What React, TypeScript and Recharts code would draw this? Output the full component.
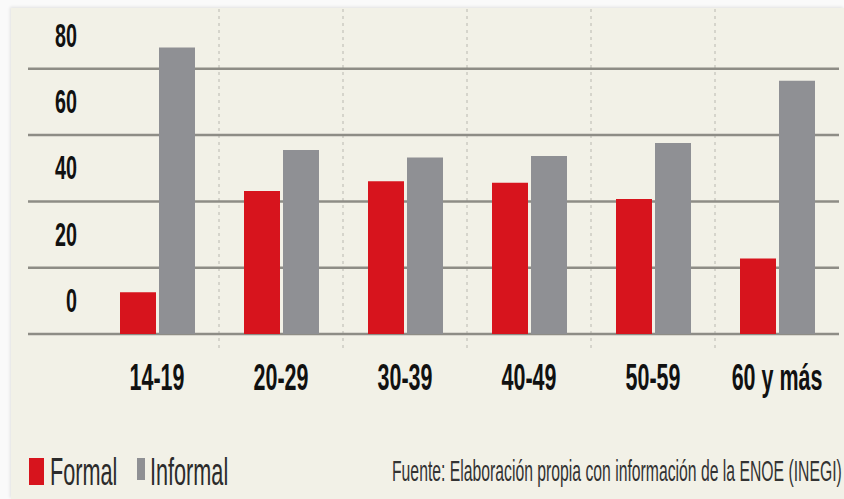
import React from 'react';
import { BarChart, Bar, XAxis, YAxis, CartesianGrid, Legend } from 'recharts';

// Employment by age group, formal vs informal (%)
const ageGroups = ['14-19', '20-29', '30-39', '40-49', '50-59', '60 y más'];
const formalValues = [12.6, 43.1, 46.1, 45.6, 40.7, 22.8];
const informalValues = [86.4, 55.5, 53.2, 53.7, 57.6, 76.4];
const yTicks = [0, 20, 40, 60, 80];
const sourceNote = 'Fuente: Elaboración propia con información de la ENOE (INEGI)';

const WIDTH = 844;
const HEIGHT = 499;
const RED = '#d7141d';
const GRAY = '#8f9094';
const CREAM = '#f2f1e7';
const FONT = '"Liberation Sans", Arial, sans-serif';
const NARROW = 0.58;
const LEFT_PAD = 67;

const data = ageGroups.map((age, i) => ({
  age,
  formal: formalValues[i],
  informal: informalValues[i],
}));

// condensed text: squeeze a regular face horizontally
const Narrow = ({ x, y, sx, anchor, size, weight, fill, children }: any) => (
  <g transform={`translate(${x},${y}) scale(${sx},1)`}>
    <text x={0} y={0} textAnchor={anchor} fontFamily={FONT} fontWeight={weight} fontSize={size} fill={fill}>
      {children}
    </text>
  </g>
);

const YTick = (props: any) => {
  const { y, payload } = props;
  return (
    <Narrow x={77} y={y - 22} sx={NARROW} anchor="end" size={34} weight={700} fill="#111">
      {payload.value}
    </Narrow>
  );
};

const XTick = (props: any) => {
  const { x, y, payload } = props;
  return (
    <Narrow x={x} y={y + 33} sx={NARROW} anchor="middle" size={37} weight={700} fill="#111">
      {payload.value}
    </Narrow>
  );
};

// dashed separators sit on the edges between age-group bands
const bandEdges = ({ xAxis, offset }: any) => {
  const scale = xAxis && xAxis.scale;
  if (scale && typeof scale === 'function') {
    const pts = ageGroups.slice(1).map((a) => scale(a));
    if (pts.every((p) => Number.isFinite(p))) return pts;
  }
  const left = offset.left + LEFT_PAD;
  const band = (offset.width - LEFT_PAD) / ageGroups.length;
  return ageGroups.slice(1).map((_, i) => left + band * (i + 1));
};

const LegendContent = (props: any) => {
  const items = props.payload || [];
  const slots = [
    { box: [29, 8, 15, 27], text: 50 },
    { box: [137, 8, 8, 22], text: 150 },
  ];
  return (
    <svg width={WIDTH} height={44} style={{ display: 'block' }}>
      {items.map((item: any, i: number) => {
        const s = slots[i];
        if (!s) return null;
        return (
          <g key={item.value}>
            <rect x={s.box[0]} y={s.box[1]} width={s.box[2]} height={s.box[3]} fill={item.color} />
            <Narrow x={s.text} y={35} sx={0.57} anchor="start" size={38} weight={400} fill="#2b2b2b">
              {item.value}
            </Narrow>
          </g>
        );
      })}
      <Narrow x={392} y={31} sx={0.543} anchor="start" size={29} weight={400} fill="#333">
        {sourceNote}
      </Narrow>
    </svg>
  );
};

const App: React.FC = () => {
  return (
    <div
      style={{
        position: 'absolute',
        left: 0,
        top: 0,
        width: WIDTH,
        height: HEIGHT,
        background: '#fafafa',
        overflow: 'hidden',
      }}
    >
      <div
        style={{
          position: 'absolute',
          left: 11,
          top: 8,
          right: 0,
          bottom: 0,
          background: CREAM,
          boxShadow: '-1px -1px 3px rgba(0,0,0,0.10)',
        }}
      />
      <div style={{ position: 'absolute', left: 0, top: 0 }}>
        <BarChart
          width={WIDTH}
          height={HEIGHT}
          data={data}
          margin={{ top: 9, right: 5, left: 27, bottom: 90 }}
          barSize={36}
          barGap={3}
        >
          <CartesianGrid
            horizontal={false}
            vertical={true}
            stroke="#b9b8b0"
            strokeWidth={1}
            strokeDasharray="3 4"
            verticalCoordinatesGenerator={bandEdges}
          />
          <CartesianGrid
            horizontal={true}
            vertical={false}
            stroke="#8e8d86"
            strokeWidth={2.5}
            syncWithTicks
          />
          <XAxis
            dataKey="age"
            padding={{ left: LEFT_PAD, right: 0 }}
            height={60}
            axisLine={false}
            tickLine={false}
            tick={<XTick />}
            interval={0}
          />
          <YAxis
            domain={[-4.5, 98]}
            ticks={yTicks}
            width={1}
            axisLine={false}
            tickLine={false}
            tick={<YTick />}
            allowDataOverflow
          />
          <Legend
            layout="horizontal"
            verticalAlign="middle"
            align="center"
            content={<LegendContent />}
            wrapperStyle={{ top: 450, left: 0, width: WIDTH }}
          />
          <Bar dataKey="formal" name="Formal" fill={RED} isAnimationActive={false} />
          <Bar dataKey="informal" name="Informal" fill={GRAY} isAnimationActive={false} />
        </BarChart>
      </div>
    </div>
  );
};

export default App;
